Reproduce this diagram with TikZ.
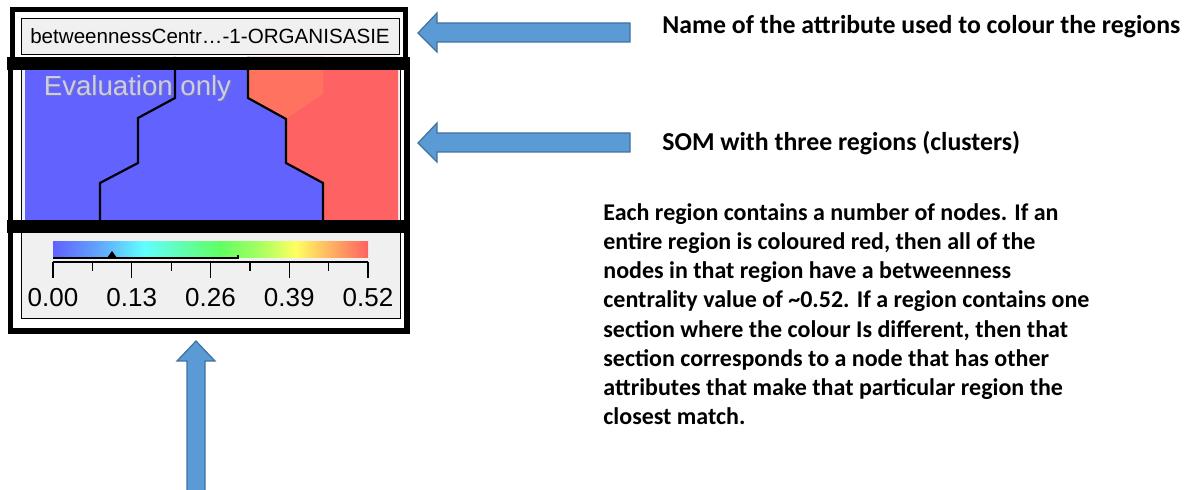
\documentclass[tikz,border=0pt]{standalone}
\usepackage{fontspec}
\setmainfont{Carlito}
\newfontfamily\arialfont{Liberation Sans}
\usetikzlibrary{positioning}

\definecolor{somblue}{RGB}{98,98,255}
\definecolor{somred}{RGB}{255,98,98}
\definecolor{somorange}{RGB}{255,114,96}
\definecolor{panelgray}{RGB}{240,240,240}
\definecolor{arrowfill}{RGB}{91,155,213}
\definecolor{arrowline}{RGB}{65,113,156}
\definecolor{markgray}{RGB}{204,204,228}
\definecolor{markshadow}{RGB}{120,120,170}

% colour scale of the legend (visible part is 25bp..75bp)
\pgfdeclarehorizontalshading{scalebar}{100bp}{%
  rgb(0bp)=(0.38,0.38,1); rgb(25bp)=(0.38,0.38,1); rgb(32.5bp)=(0.38,0.66,1);
  rgb(39.5bp)=(0.38,1,1); rgb(46bp)=(0.38,1,0.66); rgb(51.5bp)=(0.38,1,0.38);
  rgb(58bp)=(0.66,1,0.38); rgb(63.5bp)=(1,1,0.38); rgb(69bp)=(1,0.7,0.38);
  rgb(75bp)=(1,0.38,0.38); rgb(100bp)=(1,0.38,0.38)}

\tikzset{
  frame/.style={line width=2.75pt},
  band/.style={line width=6.5pt},
  border/.style={line width=1.1pt, line join=miter},
  bluearrow/.style={fill=arrowfill, draw=arrowline, line width=0.6pt},
  note/.style={font=\bfseries\fontsize{12}{14.6}\selectfont, inner sep=0, anchor=west},
  ticklabel/.style={font=\arialfont\fontsize{13}{13}\selectfont, inner sep=0}
}

\begin{document}
\begin{tikzpicture}[x=0.5pt,y=-0.5pt]
  \useasboundingbox (0,0) rectangle (1190,490);

  %% attribute name box
  \draw[frame] (12.5,9.5) rectangle (405.5,60);
  \node[draw=black, line width=0.5pt, fill=panelgray, minimum width=189pt,
        minimum height=18pt, inner sep=0,
        font=\arialfont\fontsize{10.3}{12}\selectfont] (attrname) at (210,36.5)
        {betweennessCentr\ldots-1-ORGANISASIE};

  %% map with the three regions
  \draw[line width=0.5pt, fill=panelgray] (21,60) rectangle (400,226);
  \fill[somblue] (25,57) rectangle (398,226);
  \fill[somred] (248,57) -- (248,98) -- (286,119) -- (286,163) -- (323,183)
    -- (323,226) -- (398,226) -- (398,57) -- cycle;
  \fill[somorange] (248,57) -- (248,98) -- (286,119) -- (323,94) -- (323,57) -- cycle;
  \node[text=markshadow, font=\arialfont\fontsize{13.8}{14}\selectfont] at (138.5,89.5) {Evaluation only};
  \node[text=markgray, font=\arialfont\fontsize{13.8}{14}\selectfont] (watermark) at (137.5,88.5) {Evaluation only};
  \draw[border] (175,57) -- (175,98) -- (138,118) -- (138,163) -- (100,183) -- (100,226);
  \draw[border] (248,57) -- (248,98) -- (286,119) -- (286,163) -- (323,183) -- (323,226);

  %% legend
  \draw[line width=0.5pt, fill=panelgray] (21,233) rectangle (400,319);
  \shade[shading=scalebar] (53,242) rectangle (368,258);
  \draw[line width=0.8pt] (53,258) -- (238,258) -- (238,255);
  \fill (107,258) -- (112,251) -- (117,258) -- cycle;
  \draw[line width=0.6pt] (53,262) -- (368,262);
  \foreach \k/\v in {0/0.00,1/0.13,2/0.26,3/0.39,4/0.52} {
    \draw[line width=0.6pt] ({53+\k*78.75},262) -- ({53+\k*78.75},278);
    \node[ticklabel] (lab\k) at ({53+\k*78.75},298) {\v};
  }
  \foreach \k in {0,...,3}
    \draw[line width=0.6pt] ({92.4+\k*78.75},262) -- ({92.4+\k*78.75},271);

  %% outer frame and the bands between the parts
  \draw[frame] (10.5,63) rectangle (407,331);
  \draw[band] (7,63.5) -- (410,63.5);
  \draw[band] (7,226.5) -- (410,226.5);

  %% arrows
  \draw[bluearrow] (418,33) -- (437,13) -- (437,23) -- (630,23) -- (630,42)
    -- (437,42) -- (437,52) -- cycle;
  \draw[bluearrow] (418,143) -- (437,123) -- (437,133) -- (630,133) -- (630,152)
    -- (437,152) -- (437,162) -- cycle;
  \draw[bluearrow] (196,341) -- (215,361) -- (205,361) -- (205,492) -- (187,492)
    -- (187,361) -- (177,361) -- cycle;

  %% explanations
  \node[note, font=\bfseries\fontsize{12.9}{14}\selectfont] (namenote) at (662,27)
    {Name of the attribute used to colour the regions};
  \node[note, font=\bfseries\fontsize{12.9}{14}\selectfont] (somnote) at (662,143)
    {SOM with three regions (clusters)};
  \node[note, anchor=north west, align=left] (regionnote) at (603,203)
    {Each region contains a number of nodes. If an\\
     entire region is coloured red, then all of the\\
     nodes in that region have a betweenness\\
     centrality value of \textasciitilde0.52. If a region contains one\\
     section where the colour Is different, then that\\
     section corresponds to a node that has other\\
     attributes that make that particular region the\\
     closest match.};
\end{tikzpicture}
\end{document}
